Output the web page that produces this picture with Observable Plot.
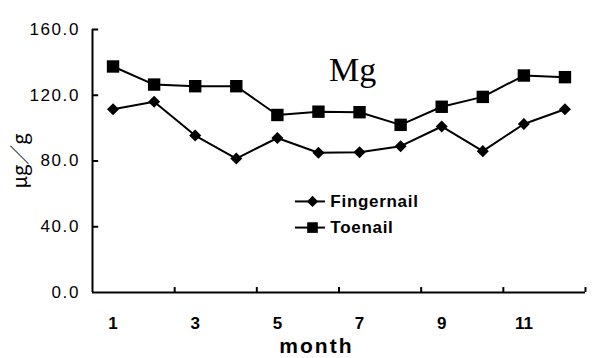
<!DOCTYPE html>
<html><head><meta charset="utf-8">
<script src="https://cdn.jsdelivr.net/npm/d3@7"></script>
<script src="https://cdn.jsdelivr.net/npm/@observablehq/plot@0.6"></script>
<style>
body{margin:0;background:#fff;}
#chart svg{display:block;}
</style>
</head><body><div id="chart"></div>
<script>
const months = [1,2,3,4,5,6,7,8,9,10,11,12];
const fingernail = [111.5,116,95.5,81.5,94,85,85.3,89,101,86,102.5,111.5];
const toenail = [137.5,126.5,125.5,125.5,108,110,109.7,102,113,119,132,131];
const yTicks = [0,40,80,120,160];
const xTickLabels = [1,3,5,7,9,11];
const xTickMarks = [2.5,4.5,6.5,8.5,10.5,12.5];
const seriesNames = ["Fingernail","Toenail"];

const finger = months.map((m,i)=>({m, v: fingernail[i]}));
const toe = months.map((m,i)=>({m, v: toenail[i]}));
const yTickInner = yTicks.filter(d=>d>0);

const legendY = [55.4, 39.5];
const legend = seriesNames.map((name,i)=>({name, y: legendY[i]}));

const font = "'Liberation Sans', Arial, sans-serif";
const chart = Plot.plot({
  width: 597, height: 358,
  marginLeft: 92, marginRight: 12, marginTop: 29, marginBottom: 66,
  x: {domain: [0.5, 12.5], axis: null},
  y: {domain: [0, 160], axis: null},
  style: {fontFamily: font, color: "#000", background: "#fff"},
  marks: [
    Plot.ruleY([0], {x1: 0.5, x2: 12.5, stroke: "#000", strokeWidth: 2}),
    Plot.ruleX([0.5], {y1: 0, y2: 160, stroke: "#000", strokeWidth: 2}),
    Plot.ruleX(xTickMarks, {y1: 0, y2: 3, stroke: "#000", strokeWidth: 2}),
    Plot.ruleY(yTickInner, {x1: 0.5, x2: 0.65, stroke: "#000", strokeWidth: 2}),
    Plot.text(yTicks, {x: 0.5, y: d=>d, text: d=>d.toFixed(1), textAnchor: "end", dx: -12.5, fontSize: 17, fill: "#000"}),
    Plot.text(xTickLabels, {x: d=>d, y: 0, dy: 31, text: d=>String(d), fontSize: 17, fontWeight: "bold", fill: "#000"}),
    Plot.text(["month"], {x: 5.95, y: 0, dy: 54, text: d=>d, fontSize: 21, fontWeight: "bold", fill: "#000"}),
    Plot.text(["μg／g"], {x: 0.5, y: 80, dx: -72, rotate: -90, text: d=>d, fontSize: 20, fontFamily: "'Noto Sans CJK JP', sans-serif", fill: "#000"}),
    Plot.text(["Mg"], {x: 6.83, y: 135, text: d=>d, fontSize: 34, fontFamily: "'Liberation Serif', 'Times New Roman', serif", fill: "#000"}),
    Plot.line(toe, {x: "m", y: "v", stroke: "#000", strokeWidth: 2}),
    Plot.dot(toe, {x: "m", y: "v", symbol: "square", r: 7, fill: "#000", stroke: null}),
    Plot.line(finger, {x: "m", y: "v", stroke: "#000", strokeWidth: 2}),
    Plot.dot(finger, {x: "m", y: "v", symbol: "square", r: 4.8, rotate: 45, fill: "#000", stroke: null}),
    // legend
    Plot.ruleY(legend, {y: "y", x1: 5.44, x2: 6.17, stroke: "#000", strokeWidth: 2}),
    Plot.dot(legend.slice(0,1), {x: 5.855, y: "y", symbol: "square", r: 4.5, rotate: 45, fill: "#000", stroke: null}),
    Plot.dot(legend.slice(1,2), {x: 5.855, y: "y", symbol: "square", r: 6, fill: "#000", stroke: null}),
    Plot.text(legend, {x: 6.29, y: "y", text: "name", textAnchor: "start", fontSize: 17, fontWeight: "bold", fill: "#000"})
  ]
});
document.getElementById("chart").appendChild(chart);
// typographic letter spacing to match the reference's wider type
d3.select(chart).selectAll("text").each(function() {
  const t = this.textContent;
  let ls = null;
  if (/^\d+\.0$/.test(t)) ls = "1.6px";
  else if (t === "month") ls = "2px";
  else if (t === "Fingernail" || t === "Toenail") ls = "0.7px";
  if (ls) this.style.letterSpacing = ls;
});
</script>
</body></html>
